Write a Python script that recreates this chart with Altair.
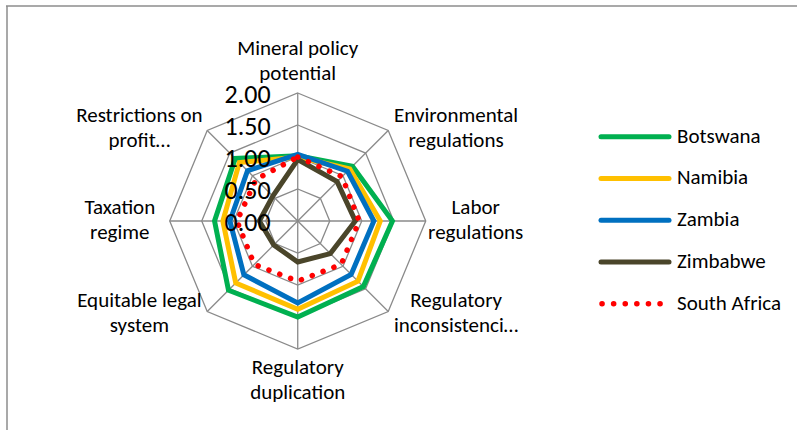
import altair as alt
import pandas as pd

# Radar chart: mining policy perception scores for southern African countries
categories = [
    "Mineral policy\npotential",
    "Environmental\nregulations",
    "Labor\nregulations",
    "Regulatory\ninconsistenci…",
    "Regulatory\nduplication",
    "Equitable legal\nsystem",
    "Taxation\nregime",
    "Restrictions on\nprofit…",
]
series_names = ["Botswana", "Namibia", "Zambia", "Zimbabwe", "South Africa"]
botswana = [1.02, 1.21, 1.48, 1.45, 1.50, 1.53, 1.30, 1.38]
namibia = [1.00, 1.15, 1.29, 1.33, 1.38, 1.37, 1.17, 1.29]
zambia = [1.04, 1.10, 1.19, 1.18, 1.28, 1.19, 1.06, 1.11]
zimbabwe = [0.96, 0.87, 0.90, 0.72, 0.64, 0.53, 0.60, 0.55]
south_africa = [1.00, 0.98, 0.96, 0.96, 0.94, 0.96, 0.95, 0.92]
ticks = [0.0, 0.5, 1.0, 1.5, 2.0]
colors = ["#00B050", "#FFC000", "#0070C0", "#4A452A", "#FF0000"]

FONT = "Calibri, Carlito, Lato, sans-serif"
GRID = "#8A8A8A"

values = [botswana, namibia, zambia, zimbabwe, south_africa]
rows = []
for s, (name, vals) in enumerate(zip(series_names, values)):
    for k, v in enumerate(vals):
        rows.append({"series": name, "s": s, "k": k, "value": v})
scores = pd.DataFrame(rows)

rings = pd.DataFrame(
    [{"level": lv, "k": k, "value": lv} for lv in ticks if lv > 0 for k in range(len(categories))]
)
spokes = pd.DataFrame({"k": list(range(len(categories))), "value": [max(ticks)] * len(categories)})
cats = pd.DataFrame({"k": list(range(len(categories))), "label": categories})
tick_df = pd.DataFrame({"tick": ticks})
legend_df = pd.DataFrame({"series": series_names, "s": list(range(len(series_names)))})
frame_df = pd.DataFrame({"one": [1]})

# Linear scales in score units; the view spans the whole page, 64 px per unit
xs = alt.Scale(domain=[-4.652, 7.801], nice=False, zero=False)
ys = alt.Scale(domain=[-3.266, 3.453], nice=False, zero=False)
color = alt.Color("series:N", scale=alt.Scale(domain=series_names, range=colors), legend=None)


def polar(chart):
    return chart.transform_calculate(
        ang="datum.k * PI / 4",
        px="datum.value * sin(datum.ang)",
        py="datum.value * cos(datum.ang)",
    )


X = alt.X("px:Q", scale=xs, axis=None)
Y = alt.Y("py:Q", scale=ys, axis=None)

ring_layer = polar(alt.Chart(rings)).mark_line(
    interpolate="linear-closed", color=GRID, strokeWidth=1.3
).encode(x=X, y=Y, detail="level:N", order="k:Q")

spoke_layer = polar(alt.Chart(spokes)).transform_calculate(x0="0", y0="0").mark_rule(
    color=GRID, strokeWidth=1.3
).encode(x=alt.X("x0:Q", scale=xs, axis=None), y=alt.Y("y0:Q", scale=ys, axis=None),
         x2="px:Q", y2="py:Q")

solid = polar(alt.Chart(scores)).transform_filter(
    "datum.series != 'South Africa'"
).mark_line(interpolate="linear-closed", strokeWidth=5).encode(
    x=X, y=Y, color=color, detail="series:N", order="k:Q"
)

dotted = polar(alt.Chart(scores)).transform_filter(
    "datum.series == 'South Africa'"
).mark_line(
    interpolate="linear-closed", strokeWidth=5.5, strokeDash=[0.1, 11.5], strokeCap="round"
).encode(x=X, y=Y, color=color, order="k:Q")

# Category labels sit just outside the outer ring (two-line blocks, centred)
label_layer = alt.Chart(cats).transform_calculate(
    ang="datum.k * PI / 4",
    px="sin(datum.ang) * (abs(sin(datum.ang)) > 0.9 ? 2.78 : 3.5)",
    py="cos(datum.ang) * (abs(cos(datum.ang)) > 0.9 ? 2.49 : 2.04)",
).mark_text(
    lineBreak="\n", align="center", baseline="middle", dy=-12.5, fontSize=21, lineHeight=25,
    font=FONT, color="#000000"
).encode(x=X, y=Y, text="label:N")

tick_layer = alt.Chart(tick_df).transform_calculate(x0="0").mark_text(
    align="right", baseline="middle", dx=-27, dy=2, fontSize=26, font=FONT, color="#000000"
).encode(
    x=alt.X("x0:Q", scale=xs, axis=None),
    y=alt.Y("tick:Q", scale=ys, axis=None),
    text=alt.Text("tick:Q", format=".2f"),
)

# Legend on the right
legend_base = alt.Chart(legend_df).transform_calculate(ly="1.317 - datum.s * 0.653")
LY = alt.Y("ly:Q", scale=ys, axis=None)
legend_solid = legend_base.transform_filter("datum.series != 'South Africa'").mark_rule(
    strokeWidth=5, strokeCap="round"
).encode(x=alt.value(601), x2=alt.value(669), y=LY, color=color)
legend_dotted = legend_base.transform_filter("datum.series == 'South Africa'").mark_rule(
    strokeWidth=5.5, strokeCap="round", strokeDash=[0.1, 11.5]
).encode(x=alt.value(602), x2=alt.value(666), y=LY, color=color)
legend_text = legend_base.mark_text(
    align="left", baseline="middle", fontSize=21, font=FONT, color="#000000"
).encode(x=alt.value(677), y=LY, text="series:N")

frame_top = alt.Chart(frame_df).mark_rule(color="#8C8C8C", strokeWidth=1.5).encode(
    x=alt.value(6), x2=alt.value(797), y=alt.value(6)
)
frame_left = alt.Chart(frame_df).mark_rule(color="#8C8C8C", strokeWidth=1.5).encode(
    x=alt.value(7), y=alt.value(6), y2=alt.value(430)
)

chart = alt.layer(
    frame_top, frame_left, ring_layer, spoke_layer, solid, dotted,
    tick_layer, label_layer, legend_solid, legend_dotted, legend_text,
).properties(
    width=797, height=430, autosize=alt.AutoSizeParams(type="none"), padding=0
).configure_view(stroke=None)

chart.save("out.html", embed_options={"renderer": "svg", "actions": False})
